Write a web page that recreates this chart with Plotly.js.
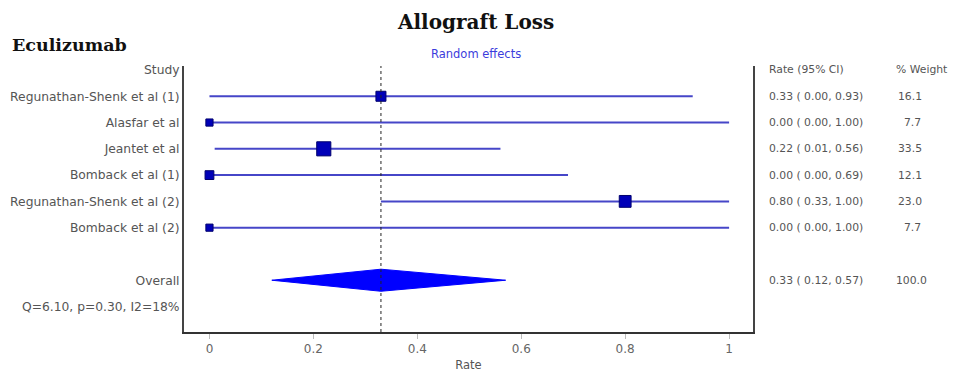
<!DOCTYPE html>
<html>
<head>
<meta charset="utf-8">
<script src="https://cdn.plot.ly/plotly-3.0.1.min.js"></script>
<style>html,body{margin:0;padding:0;background:#fff;}#chart{width:961px;height:375px;}</style>
</head>
<body>
<div id="chart"></div>
<script>
// ---- data ----
const studies = ["Regunathan-Shenk et al (1)", "Alasfar et al", "Jeantet et al", "Bomback et al (1)", "Regunathan-Shenk et al (2)", "Bomback et al (2)"];
const rates   = [0.33, 0.00, 0.22, 0.00, 0.80, 0.00];
const lower   = [0.00, 0.00, 0.01, 0.00, 0.33, 0.00];
const upper   = [0.93, 1.00, 0.56, 0.69, 1.00, 1.00];
const weights = [16.1, 7.7, 33.5, 12.1, 23.0, 7.7];
const overallLabel = "Overall";
const overallRate = 0.33;
const overallLower = 0.12;
const overallUpper = 0.57;
const overallWeight = 100.0;
const heterogeneity = "Q=6.10, p=0.30, I2=18%";
const xTickVals = [0, 0.2, 0.4, 0.6, 0.8, 1];
const xTickText = ["0", "0.2", "0.4", "0.6", "0.8", "1"];
const headerStudy = "Study";
const headerRate = "Rate (95% CI)";
const headerWeight = "% Weight";
const titleText = "Allograft Loss";
const subtitleText = "Random effects";
const drugText = "Eculizumab";
const xTitle = "Rate";

// ---- rows ----
const rowY = studies.map((s, i) => i + 1);
const overallY = studies.length + 2;
const statsY = overallY + 1;

const ciX = [], ciY = [];
studies.forEach((s, i) => { ciX.push(lower[i], upper[i], null); ciY.push(rowY[i], rowY[i], null); });

const sizes = weights.map(w => 2.3 * Math.sqrt(w) + 0.8);

const ciTrace = {x: ciX, y: ciY, mode: 'lines', type: 'scatter', line: {color: '#4646c8', width: 2}, hoverinfo: 'skip', showlegend: false};
const ptTrace = {x: rates, y: rowY, mode: 'markers', type: 'scatter', opacity: 1,
  marker: {symbol: 'square', size: sizes, color: '#0000b8', opacity: 1, line: {color: '#00006e', width: 1}}, showlegend: false};
const dh = 0.42;
const diamond = {x: [overallLower, overallRate, overallUpper, overallRate, overallLower],
  y: [overallY, overallY - dh, overallY, overallY + dh, overallY],
  mode: 'lines', type: 'scatter', fill: 'toself', fillcolor: '#0000ff', line: {color: '#0000ff', width: 1}, showlegend: false};

const tickvals = [0].concat(rowY, [overallY, statsY]);
const ticktext = [headerStudy].concat(studies, [overallLabel, heterogeneity]);

const fmt = v => v.toFixed(2);
const gray = '#555555';
const sans = 'DejaVu Sans, sans-serif';
const rightFont = {family: sans, size: 10.8, color: gray};

const annotations = [];
annotations.push({xref: 'paper', yref: 'y', x: 1, xshift: 14, y: 0, text: headerRate, showarrow: false, xanchor: 'left', font: rightFont});
annotations.push({xref: 'paper', yref: 'y', x: 1, xshift: 141, y: 0, text: headerWeight, showarrow: false, xanchor: 'left', font: rightFont});
const rowsR = rates.map((r, i) => [r, lower[i], upper[i], weights[i], rowY[i]]).concat([[overallRate, overallLower, overallUpper, overallWeight, overallY]]);
rowsR.forEach(([r, lo, hi, w, y]) => {
  annotations.push({xref: 'paper', yref: 'y', x: 1, xshift: 14, y: y,
    text: fmt(r) + ' (\u00a0' + fmt(lo) + ',\u00a0' + fmt(hi) + ')', showarrow: false, xanchor: 'left', font: rightFont});
  const shift = w >= 100 ? 141 : (w < 10 ? 149 : 143);
  annotations.push({xref: 'paper', yref: 'y', x: 1, xshift: shift, y: y, text: w.toFixed(1), showarrow: false, xanchor: 'left', font: rightFont});
});
annotations.push({xref: 'paper', yref: 'paper', x: 0.513, y: 1, yshift: 44, text: '<b>' + titleText + '</b>', showarrow: false, xanchor: 'center', yanchor: 'middle', font: {family: 'DejaVu Serif, serif', size: 20, color: '#111'}});
annotations.push({xref: 'paper', yref: 'paper', x: 0.513, y: 1, yshift: 12, text: subtitleText, showarrow: false, xanchor: 'center', yanchor: 'middle', font: {family: sans, size: 11.5, color: '#3c3cdc'}});
annotations.push({xref: 'paper', yref: 'paper', x: 0, xshift: -174, y: 1, yshift: 21, text: '<b>' + drugText + '</b>', showarrow: false, xanchor: 'left', yanchor: 'middle', font: {family: 'DejaVu Serif, serif', size: 17.5, color: '#111'}});

const layout = {
  width: 961, height: 375,
  margin: {l: 184, r: 208, t: 66, b: 43},
  paper_bgcolor: '#fff', plot_bgcolor: '#fff',
  showlegend: false,
  xaxis: {range: [-0.049, 1.046], tickvals: xTickVals, ticktext: xTickText, showgrid: false, zeroline: false,
    showline: true, linecolor: '#333', linewidth: 2, ticks: 'outside', ticklen: 5, tickcolor: '#bbb',
    tickfont: {family: sans, size: 12, color: '#666'},
    title: {text: xTitle, font: {family: sans, size: 11.5, color: '#555'}, standoff: 6}},
  yaxis: {range: [9.97, -0.152], tickvals: tickvals, ticktext: ticktext, showgrid: false, zeroline: false,
    showline: true, mirror: true, linecolor: '#444', linewidth: 2, ticks: '',
    tickfont: {family: sans, size: 12.3, color: gray}},
  shapes: [{type: 'line', xref: 'x', yref: 'paper', x0: overallRate, x1: overallRate, y0: 0, y1: 1, line: {color: '#222', width: 1, dash: 'dot'}}],
  annotations: annotations
};

Plotly.newPlot('chart', [ciTrace, diamond, ptTrace], layout, {displayModeBar: false, staticPlot: true});
</script>
</body>
</html>
